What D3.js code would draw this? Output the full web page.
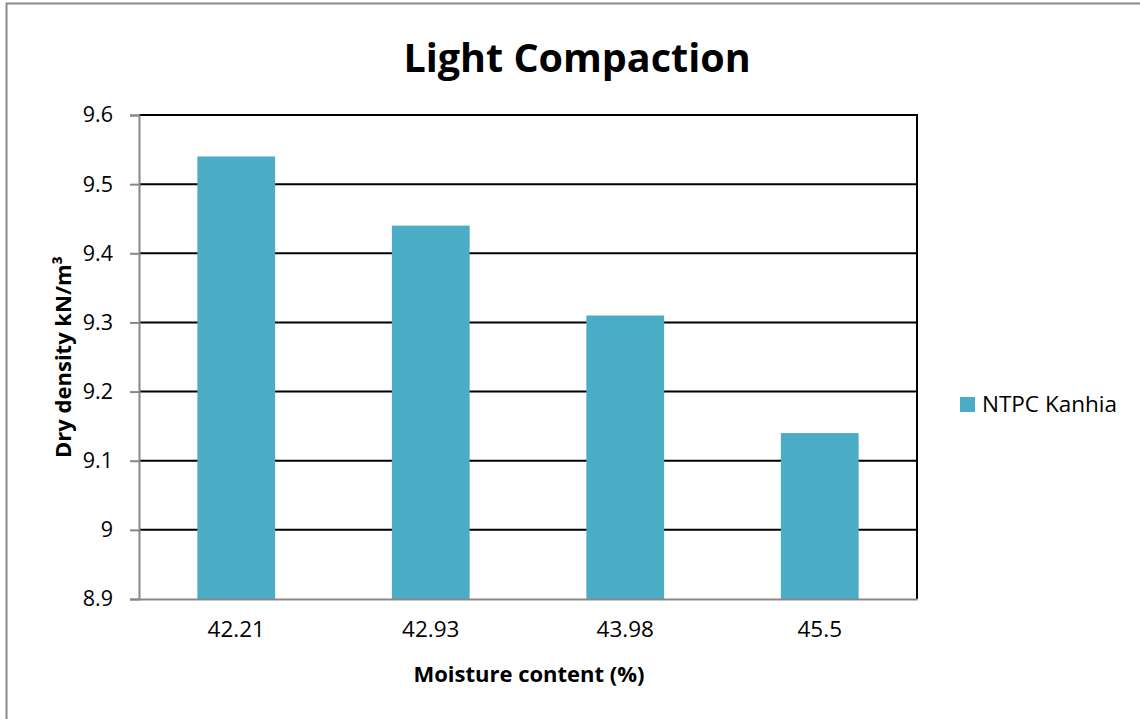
<!DOCTYPE html>
<html>
<head>
<meta charset="utf-8">
<script src="https://cdn.jsdelivr.net/npm/d3@7"></script>
<style>
  html, body { margin: 0; padding: 0; background: #fff; }
  svg { display: block; }
  text { font-family: "Open Sans", "DejaVu Sans", sans-serif; fill: #000; }
</style>
</head>
<body>
<svg id="chart" width="1140" height="719"></svg>
<script>
// Moisture content categories and the measured dry densities
const categories = ["42.21", "42.93", "43.98", "45.5"];
const dryDensity = [9.54, 9.44, 9.31, 9.14];
const yTicks = [8.9, 9, 9.1, 9.2, 9.3, 9.4, 9.5, 9.6];
const seriesName = "NTPC Kanhia";

const W = 1140, H = 719;
const plot = { left: 139, right: 917, top: 115, bottom: 599 };
const barColor = "#4BACC6";

const svg = d3.select("#chart");

// outer chart frame
svg.append("rect")
  .attr("x", 6.5).attr("y", 3.5)
  .attr("width", W + 20).attr("height", H + 20)
  .attr("fill", "#fff").attr("stroke", "#8a8a8a").attr("stroke-width", 2);

const x = d3.scaleBand()
  .domain(categories)
  .range([plot.left, plot.right])
  .paddingInner(0.6)
  .paddingOuter(0.3);

const y = d3.scaleLinear()
  .domain([8.9, 9.6])
  .range([plot.bottom, plot.top]);

// horizontal gridlines
svg.append("g")
  .selectAll("line")
  .data(yTicks.filter(t => t > 8.9))
  .join("line")
  .attr("x1", plot.left).attr("x2", plot.right)
  .attr("y1", d => y(d)).attr("y2", d => y(d))
  .attr("stroke", "#000").attr("stroke-width", 2);

// right edge of the plot area
svg.append("line")
  .attr("x1", plot.right).attr("x2", plot.right)
  .attr("y1", plot.top - 1).attr("y2", plot.bottom)
  .attr("stroke", "#000").attr("stroke-width", 2);

// bars
svg.append("g")
  .selectAll("rect")
  .data(categories.map((c, i) => ({ c, v: dryDensity[i] })))
  .join("rect")
  .attr("x", d => x(d.c))
  .attr("width", x.bandwidth())
  .attr("y", d => y(d.v))
  .attr("height", d => y(8.9) - y(d.v))
  .attr("fill", barColor);

// y axis
const yAxis = svg.append("g")
  .attr("transform", `translate(${plot.left},0)`)
  .call(d3.axisLeft(y).tickValues(yTicks).tickSize(9).tickPadding(17)
    .tickFormat(d => d3.format("")(+d.toFixed(1))));
yAxis.select(".domain").attr("stroke", "#878787").attr("stroke-width", 2);
yAxis.selectAll(".tick line").attr("stroke", "#878787").attr("stroke-width", 2);
yAxis.selectAll(".tick text")
  .attr("font-size", 21.5).attr("fill", "#000")
  .style("font-family", "'Open Sans', sans-serif");

// x axis
const xAxis = svg.append("g")
  .attr("transform", `translate(0,${plot.bottom})`)
  .call(d3.axisBottom(x).tickSize(0).tickPadding(22));
xAxis.select(".domain").attr("stroke", "#878787").attr("stroke-width", 2);
xAxis.selectAll(".tick text")
  .attr("font-size", 22.5).attr("fill", "#000")
  .style("font-family", "'Open Sans', sans-serif");

// title
svg.append("text")
  .attr("x", 577).attr("y", 72)
  .attr("text-anchor", "middle")
  .attr("font-size", 39.5).attr("font-weight", "bold")
  .text("Light Compaction");

// axis titles
svg.append("text")
  .attr("x", 529).attr("y", 682)
  .attr("text-anchor", "middle")
  .attr("font-size", 22).attr("font-weight", "bold")
  .text("Moisture content (%)");

svg.append("text")
  .attr("transform", "translate(71,357) rotate(-90)")
  .attr("text-anchor", "middle")
  .attr("font-size", 22).attr("font-weight", "bold")
  .text("Dry density kN/m³");

// legend
const legend = svg.append("g").attr("transform", "translate(960,397)");
legend.append("rect").attr("width", 15).attr("height", 15).attr("fill", barColor);
legend.append("text")
  .attr("x", 22).attr("y", 15)
  .attr("font-size", 22.5)
  .text(seriesName);
</script>
</body>
</html>
